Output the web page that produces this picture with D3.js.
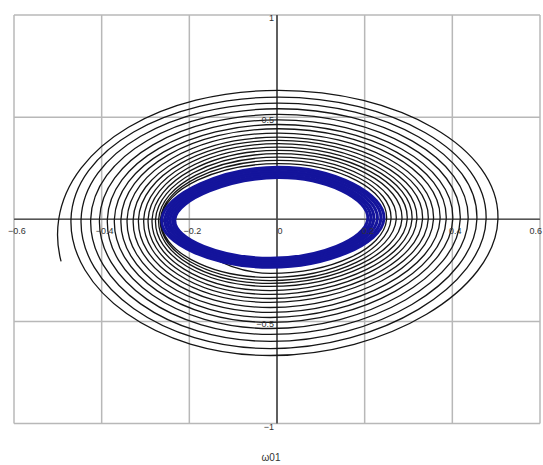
<!DOCTYPE html>
<html>
<head>
<meta charset="utf-8">
<script src="https://cdn.jsdelivr.net/npm/d3@7"></script>
<style>
  html, body { margin: 0; padding: 0; background: #fff; }
  svg { display: block; }
  text { font-family: "Liberation Sans", Arial, sans-serif; }
</style>
</head>
<body>
<svg id="chart" width="543" height="465"></svg>
<script>
// ---- data ----
const xTicks = [-0.6, -0.4, -0.2, 0, 0.2, 0.4, 0.6];
const xTickLabels = ["\u22120.6", "\u22120.4", "\u22120.2", "0", "0.2", "0.4", "0.6"];
const yTicks = [-1, -0.5, 0, 0.5, 1];
const yTickLabels = ["\u22121", "\u22120.5", "", "0.5", "1"];
const xLabel = "\u03c901";

// transient trajectory (black): hidden lead-in, visible start level, then per-turn extremes
const spiralLeadIn = [[0.53, 0], [-0.09, -0.70]];
const spiralStartY = -0.21;
const spiralLeft   = [-0.498, -0.470, -0.447, -0.425, -0.405, -0.387, -0.371, -0.356, -0.342, -0.328, -0.316, -0.304, -0.294, -0.285, -0.277, -0.270, -0.266, -0.264];
const spiralTop    = [0.631, 0.598, 0.569, 0.541, 0.513, 0.487, 0.464, 0.443, 0.422, 0.402, 0.386, 0.370, 0.353, 0.337, 0.321, 0.304, 0.288, 0.272];
const spiralRight  = [0.504, 0.477, 0.456, 0.436, 0.418, 0.401, 0.386, 0.372, 0.357, 0.345, 0.332, 0.319, 0.308, 0.297, 0.285, 0.272, 0.260, 0.250];
const spiralBottom = [-0.667, -0.633, -0.598, -0.564, -0.535, -0.505, -0.481, -0.456, -0.432, -0.407, -0.388, -0.368, -0.349, -0.329, -0.314, -0.300, -0.285, -0.265];
const crestX = [0.004, -0.015];   // x of top crest, x of bottom trough

// steady-state cycle (blue): several loops
const cycleLeft   = [-0.263, -0.256, -0.250, -0.244, -0.238, -0.233];
const cycleTop    = [0.255, 0.245, 0.234, 0.224, 0.213, 0.204];
const cycleRight  = [0.244, 0.237, 0.229, 0.221, 0.214, 0.207];
const cycleBottom = [-0.235, -0.226, -0.217, -0.208, -0.199, -0.191];

// ---- drawing ----
const svg = d3.select("#chart");
const x = d3.scaleLinear().domain([-0.6, 0.6]).range([14, 540]);
const y = d3.scaleLinear().domain([-1, 1]).range([423.5, 15]);

// grid
const grid = svg.append("g");
grid.selectAll("line.v").data(xTicks).join("line")
  .attr("x1", d => x(d)).attr("x2", d => x(d))
  .attr("y1", y(1)).attr("y2", y(-1))
  .attr("stroke", "#b8b8b8").attr("stroke-width", 1.5);
grid.selectAll("line.h").data(yTicks).join("line")
  .attr("y1", d => y(d)).attr("y2", d => y(d))
  .attr("x1", x(-0.6)).attr("x2", x(0.6))
  .attr("stroke", "#b8b8b8").attr("stroke-width", 1.5);

// axes through origin
svg.append("line").attr("x1", x(-0.6)).attr("x2", x(0.6))
  .attr("y1", y(0)).attr("y2", y(0)).attr("stroke", "#555").attr("stroke-width", 1.6);
svg.append("line").attr("x1", x(0)).attr("x2", x(0))
  .attr("y1", y(1)).attr("y2", y(-1)).attr("stroke", "#444").attr("stroke-width", 1.6);

// black spiral
const spiralPts = spiralLeadIn.slice();
spiralLeft.forEach((L, k) => {
  spiralPts.push([L, 0]);
  spiralPts.push([crestX[0], spiralTop[k]]);
  spiralPts.push([spiralRight[k], 0]);
  spiralPts.push([crestX[1], spiralBottom[k]]);
});
spiralPts.push([cycleLeft[0], 0]);

const line = d3.line().x(d => x(d[0])).y(d => y(d[1]))
  .curve(d3.curveCardinal.tension(-0.62));
const spiral = svg.append("path").attr("d", line(spiralPts))
  .attr("fill", "none").attr("stroke", "#151515").attr("stroke-width", 1.3);

// hide the lead-in: visible from where the first left arc rises above the start level
const node = spiral.node();
const total = node.getTotalLength();
const targetY = y(spiralStartY);
const xLimit = x(-0.35);
let startLen = 0;
for (let s = 0; s < total; s += 1) {
  const p = node.getPointAtLength(s);
  if (p.x < xLimit && p.y <= targetY) { startLen = s; break; }
}
spiral.attr("stroke-dasharray", `0 ${startLen} ${total}`);

// blue cycle loops
const closed = d3.line().x(d => x(d[0])).y(d => y(d[1]))
  .curve(d3.curveCardinalClosed.tension(-0.5));
cycleLeft.forEach((L, k) => {
  const pts = [[L, 0], [crestX[0], cycleTop[k]], [cycleRight[k], 0], [crestX[1], cycleBottom[k]]];
  svg.append("path").attr("d", closed(pts))
    .attr("fill", "none").attr("stroke", "#14149c").attr("stroke-width", 3);
});

// tick labels
svg.selectAll("text.xt").data(xTicks).join("text")
  .attr("x", (d, i) => i === xTicks.length - 1 ? 542 : x(d) + 3)
  .attr("y", y(0) + 15)
  .attr("text-anchor", (d, i) => i === xTicks.length - 1 ? "end" : "middle")
  .attr("font-size", 9).attr("fill", "#333")
  .text((d, i) => xTickLabels[i]);
svg.selectAll("text.yt").data(yTicks).join("text")
  .attr("x", x(0) - 3).attr("y", d => y(d) + 6)
  .attr("text-anchor", "end").attr("font-size", 9).attr("fill", "#333")
  .text((d, i) => yTickLabels[i]);

// axis title
svg.append("text").attr("x", 271).attr("y", 461)
  .attr("text-anchor", "middle").attr("font-size", 10).attr("fill", "#333")
  .text(xLabel);
</script>
</body>
</html>
